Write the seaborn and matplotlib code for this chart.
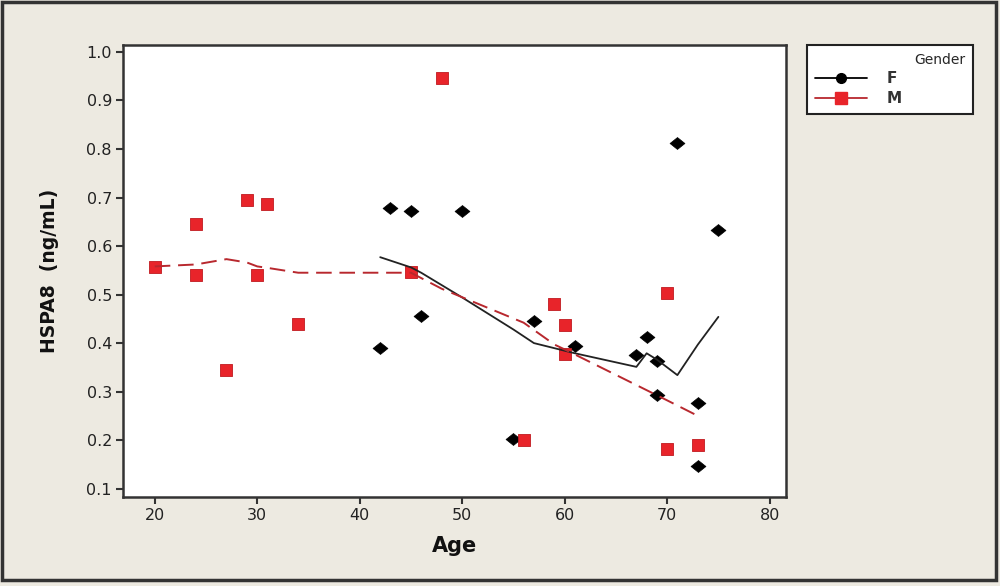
import numpy as np
import pandas as pd
import seaborn as sns
import matplotlib.pyplot as plt
from matplotlib.lines import Line2D
from matplotlib.path import Path
from matplotlib.patches import Rectangle

# observed points
female_age = [42, 43, 45, 46, 50, 55, 57, 61, 67, 68, 69, 69, 71, 73, 73, 75]
female_hspa8 = [0.389, 0.678, 0.673, 0.455, 0.673, 0.202, 0.445, 0.393,
                0.375, 0.412, 0.363, 0.294, 0.813, 0.276, 0.147, 0.634]
male_age = [20, 24, 24, 27, 29, 30, 31, 34, 45, 48, 56, 59, 60, 60, 70, 70, 73]
male_hspa8 = [0.557, 0.645, 0.540, 0.344, 0.694, 0.540, 0.687, 0.440, 0.547,
              0.947, 0.200, 0.480, 0.437, 0.377, 0.504, 0.182, 0.189]

# smoother curves
female_fit_age = [42, 43, 45, 46, 50, 55, 57, 61, 67, 68, 69, 71, 73, 75]
female_fit = [0.577, 0.570, 0.556, 0.545, 0.494, 0.428, 0.400, 0.379,
              0.351, 0.379, 0.366, 0.334, 0.397, 0.454]
male_fit_age = [20, 24, 27, 29, 30, 31, 34, 45, 48, 56, 59, 60, 70, 73]
male_fit = [0.558, 0.562, 0.573, 0.566, 0.558, 0.555, 0.545, 0.545,
            0.512, 0.442, 0.397, 0.387, 0.282, 0.250]

x_ticks = [20, 30, 40, 50, 60, 70, 80]
y_ticks = [0.1, 0.2, 0.3, 0.4, 0.5, 0.6, 0.7, 0.8, 0.9, 1.0]

BG = '#EDEAE1'
RED = '#E8242A'
DARKRED = '#B8282E'

pts = pd.concat([
    pd.DataFrame({'Age': female_age, 'HSPA8': female_hspa8, 'Gender': 'F'}),
    pd.DataFrame({'Age': male_age, 'HSPA8': male_hspa8, 'Gender': 'M'}),
], ignore_index=True)

sns.set_theme(style='ticks')
plt.rcParams['font.family'] = ['DejaVu Sans']
plt.rcParams['axes.edgecolor'] = '#333333'
plt.rcParams['xtick.color'] = '#333333'
plt.rcParams['ytick.color'] = '#333333'

fig = plt.figure(figsize=(10, 5.86), dpi=100, facecolor=BG)
ax = fig.add_axes([0.123, 0.152, 0.663, 0.771])
ax.set_facecolor('white')

flat_diamond = Path([(-1, 0), (0, 0.8), (1, 0), (0, -0.8), (-1, 0)],
                    [Path.MOVETO, Path.LINETO, Path.LINETO, Path.LINETO, Path.CLOSEPOLY])

sns.lineplot(x=female_fit_age, y=female_fit, color='#222222', linewidth=1.3,
             ax=ax, legend=False)
sns.lineplot(x=male_fit_age, y=male_fit, color=DARKRED, linewidth=1.4,
             dashes=False, ax=ax, legend=False).lines[-1].set_dashes((8, 4))

sns.scatterplot(data=pts[pts.Gender == 'F'], x='Age', y='HSPA8', marker=flat_diamond,
                s=115, color='black', edgecolor='black', linewidth=0.5, ax=ax, legend=False)
sns.scatterplot(data=pts[pts.Gender == 'M'], x='Age', y='HSPA8', marker='s',
                s=85, color=RED, edgecolor='#C01A20', linewidth=0.6, ax=ax, legend=False)

ax.set_xlim(16.9, 81.6)
ax.set_ylim(0.083, 1.014)
ax.set_xticks(x_ticks)
ax.set_yticks(y_ticks)
ax.set_yticklabels(['%.1f' % v for v in y_ticks])
ax.tick_params(length=5, width=1.5, labelsize=11.5, pad=3, labelcolor='#222222')
for s in ax.spines.values():
    s.set_linewidth(1.8)
    s.set_visible(True)

ax.set_xlabel('Age', fontsize=15, fontweight='bold', labelpad=9, color='#111111')
ax.set_ylabel('HSPA8  (ng/mL)', fontsize=13.5, fontweight='bold', labelpad=20, color='#111111')

handles = [
    Line2D([], [], color='black', marker='o', markersize=7, linewidth=1.3),
    Line2D([], [], color=DARKRED, marker='s', markersize=8, markerfacecolor=RED,
           markeredgecolor=RED, linewidth=1.3),
]
leg = fig.legend(handles, ['F', 'M'], title='Gender', loc='upper left',
                 bbox_to_anchor=(0.807, 0.809, 0.166, 0.114), bbox_transform=fig.transFigure,
                 mode='expand', borderaxespad=0, frameon=True, fancybox=False,
                 edgecolor='#222222', facecolor='white', framealpha=1, fontsize=11,
                 title_fontsize=10, handlelength=3.4, handletextpad=1.3, borderpad=0.5,
                 labelspacing=0.3, alignment='right')
leg.get_frame().set_linewidth(1.5)
for t in leg.get_texts():
    t.set_color('#333333')
    t.set_fontweight('bold')

fig.patches.append(Rectangle((0.002, 0.010), 0.994, 0.986, transform=fig.transFigure,
                             fill=False, edgecolor='#333333', linewidth=2.5))

fig.savefig('out.png', dpi=100, facecolor=BG)
